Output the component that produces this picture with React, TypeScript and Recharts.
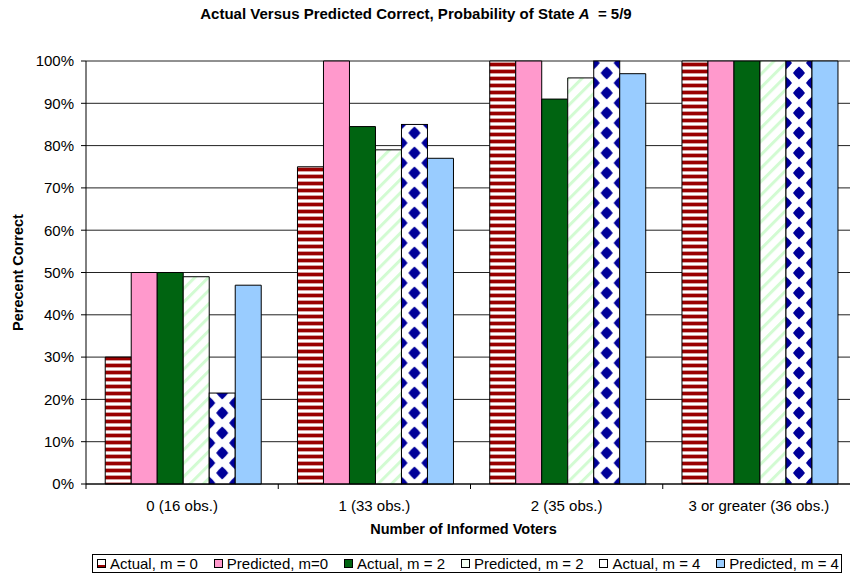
// @ts-nocheck
import React from 'react';
import { BarChart, Bar, XAxis, YAxis, CartesianGrid, Label } from 'recharts';

const categories = ['0 (16 obs.)', '1 (33 obs.)', '2 (35 obs.)', '3 or greater (36 obs.)'];
const actualM0 = [30, 75, 100, 100];
const predictedM0 = [50, 100, 100, 100];
const actualM2 = [50, 84.5, 91, 100];
const predictedM2 = [49, 79, 96, 100];
const actualM4 = [21.5, 85, 100, 100];
const predictedM4 = [47, 77, 97, 100];
const yTicks = [0, 10, 20, 30, 40, 50, 60, 70, 80, 90, 100];

const legendNames = ['Actual, m = 0', 'Predicted, m=0', 'Actual, m = 2', 'Predicted, m = 2', 'Actual, m = 4', 'Predicted, m = 4'];

const data = categories.map((name, i) => ({
    name,
    a0: actualM0[i],
    p0: predictedM0[i],
    a2: actualM2[i],
    p2: predictedM2[i],
    a4: actualM4[i],
    p4: predictedM4[i],
}));

const FONT = 'Arial, "Liberation Sans", sans-serif';
const CHART_W = 857;
const MARGIN = { top: 61, right: 2, left: 0, bottom: 0 };
const Y_W = 86;
const BAND = (CHART_W - MARGIN.right - MARGIN.left - Y_W) / categories.length;

const XTick = ({ x, y, payload, index }) => (
    <g>
        <line x1={x - BAND / 2} x2={x - BAND / 2} y1={y} y2={y + 5} stroke="#000" />
        {index === categories.length - 1 && <line x1={x + BAND / 2} x2={x + BAND / 2} y1={y} y2={y + 5} stroke="#000" />}
        <text x={x} y={y + 27} textAnchor="middle" fontSize={15} fill="#000" fontFamily={FONT}>
            {payload.value}
        </text>
    </g>
);

// diamond pattern anchored to each bar so the centre column sits in the middle
const DiamondBar = ({ x, y, width, height, index }) => {
    if (!height || height <= 0) return null;
    const id = `diam-${index}`;
    const h = 6.5;
    const w = 6;
    const k = 0.06; // slight rounding
    const d = (cx, cy) =>
        `M${cx},${cy - h} Q${cx + w * (0.5 + k)},${cy - h * (0.5 + k)} ${cx + w},${cy} Q${cx + w * (0.5 + k)},${cy + h * (0.5 + k)} ${cx},${cy + h} Q${cx - w * (0.5 + k)},${cy + h * (0.5 + k)} ${cx - w},${cy} Q${cx - w * (0.5 + k)},${cy - h * (0.5 + k)} ${cx},${cy - h} Z`;
    return (
        <g>
            <defs>
                <pattern id={id} patternUnits="userSpaceOnUse" x={x} y={3} width={width} height={20}>
                    <rect width={width} height={20} fill="#fff" />
                    <path d={d(0, 0) + d(width, 0) + d(0, 20) + d(width, 20) + d(width / 2, 10)} fill="#000099" />
                </pattern>
            </defs>
            <rect x={x} y={y} width={width} height={height} fill={`url(#${id})`} stroke="#000" strokeWidth={1} />
        </g>
    );
};

const LegendIcon = ({ kind }) => {
    const inner = {
        a0: <><rect x={0.5} y={0.5} width={8} height={8} fill="#fff" /><rect x={0.5} y={6} width={8} height={2.5} fill="#990000" /></>,
        p0: <rect x={0.5} y={0.5} width={8} height={8} fill="#ff99cc" />,
        a2: <rect x={0.5} y={0.5} width={8} height={8} fill="#006411" />,
        p2: <rect x={0.5} y={0.5} width={8} height={8} fill="#f2fff2" />,
        a4: <rect x={0.5} y={0.5} width={8} height={8} fill="#fff" />,
        p4: <rect x={0.5} y={0.5} width={8} height={8} fill="#99ccff" />,
    }[kind];
    return (
        <svg width={9} height={9} style={{ display: 'block', marginRight: 4 }}>
            {inner}
            <rect x={0.5} y={0.5} width={8} height={8} fill="none" stroke="#000" />
        </svg>
    );
};

const legendKeys = ['a0', 'p0', 'a2', 'p2', 'a4', 'p4'];

export default function App() {
    return (
        <div style={{ position: 'relative', width: 850, height: 580, overflow: 'hidden', background: '#fff', fontFamily: FONT }}>
            <style>{'body{margin:0}'}</style>
            <div style={{ position: 'absolute', top: 5, left: 0, width: 832, textAlign: 'center', fontWeight: 'bold', fontSize: 15, lineHeight: '18px' }}>
                Actual Versus Predicted Correct, Probability of State <i>A</i> &nbsp;= 5/9
            </div>
            <BarChart width={CHART_W} height={580} data={data} margin={MARGIN} barCategoryGap="10%" barGap={0}>
                <defs>
                    <pattern id="hstripe" patternUnits="userSpaceOnUse" width={8} height={7}>
                        <rect width={8} height={7} fill="#fff" />
                        <rect y={0} width={8} height={3} fill="#990000" />
                        <rect y={3} width={8} height={1} fill="#d8a0a0" />
                        <rect y={6} width={8} height={1} fill="#d8a0a0" />
                    </pattern>
                    <pattern id="dstripe" patternUnits="userSpaceOnUse" width={9.5} height={9.5} patternTransform="rotate(45)">
                        <rect width={9.5} height={9.5} fill="#fff" />
                        <rect x={0} width={3} height={9.5} fill="#d2fbd2" />
                    </pattern>
                </defs>
                <CartesianGrid vertical={false} stroke="#222" />
                <XAxis
                    dataKey="name"
                    height={96}
                    tickLine={false}
                    tickSize={0}
                    tickMargin={0}
                    axisLine={{ stroke: '#000' }}
                    tick={<XTick />}
                    interval={0}
                >
                    <Label
                        content={({ viewBox }) => (
                            <text x={viewBox.x + viewBox.width / 2 - 7} y={534} textAnchor="middle" fontSize={14.5} fontWeight="bold" fill="#000" fontFamily={FONT}>
                                Number of Informed Voters
                            </text>
                        )}
                    />
                </XAxis>
                <YAxis
                    width={Y_W}
                    domain={[0, 100]}
                    ticks={yTicks}
                    tickFormatter={(v) => `${v}%`}
                    tick={{ fontSize: 15, fill: '#000', fontFamily: FONT }}
                    tickSize={5}
                    tickMargin={7}
                    tickLine={{ stroke: '#000' }}
                    axisLine={{ stroke: '#000' }}
                    interval={0}
                >
                    <Label
                        content={({ viewBox }) => {
                            const cy = viewBox.y + viewBox.height / 2;
                            return (
                                <text x={18} y={cy} transform={`rotate(-90 18 ${cy})`} textAnchor="middle" dominantBaseline="central" fontSize={14.5} fontWeight="bold" fill="#000" fontFamily={FONT}>
                                    Perecent Correct
                                </text>
                            );
                        }}
                    />
                </YAxis>
                <Bar dataKey="a0" fill="url(#hstripe)" stroke="#000" strokeWidth={1} isAnimationActive={false} />
                <Bar dataKey="p0" fill="#ff99cc" stroke="#000" strokeWidth={1} isAnimationActive={false} />
                <Bar dataKey="a2" fill="#006411" stroke="#000" strokeWidth={1} isAnimationActive={false} />
                <Bar dataKey="p2" fill="url(#dstripe)" stroke="#000" strokeWidth={1} isAnimationActive={false} />
                <Bar dataKey="a4" shape={<DiamondBar />} isAnimationActive={false} />
                <Bar dataKey="p4" fill="#99ccff" stroke="#000" strokeWidth={1} isAnimationActive={false} />
            </BarChart>
            <div
                style={{
                    position: 'absolute',
                    top: 554,
                    left: 92,
                    width: 742,
                    height: 17,
                    border: '1px solid #000',
                    display: 'flex',
                    alignItems: 'center',
                    justifyContent: 'space-between',
                    padding: '0 2px 0 4px',
                    fontSize: 15,
                    lineHeight: '17px',
                    whiteSpace: 'nowrap',
                }}
            >
                {legendKeys.map((k, i) => (
                    <div key={k} style={{ display: 'flex', alignItems: 'center' }}>
                        <LegendIcon kind={k} />
                        <span>{legendNames[i]}</span>
                    </div>
                ))}
            </div>
        </div>
    );
}
